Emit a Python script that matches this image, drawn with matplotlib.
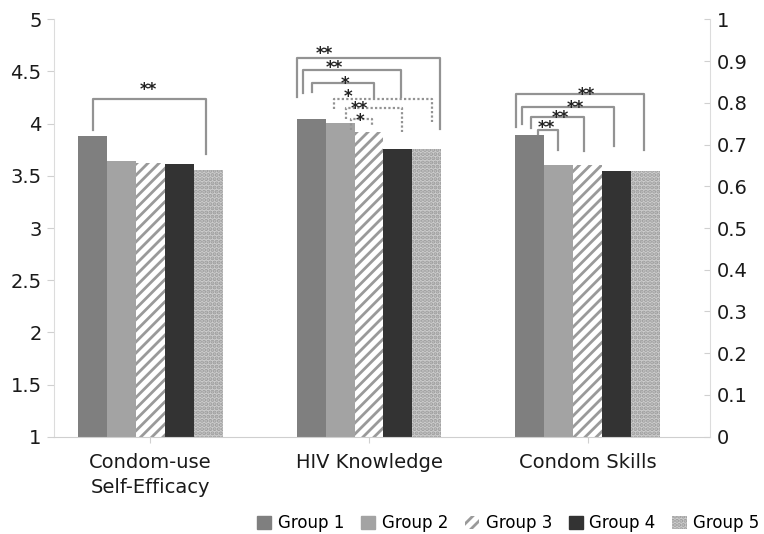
import matplotlib
matplotlib.use("Agg")
import matplotlib.pyplot as plt
from matplotlib.patches import Patch
import numpy as np

# ---- data ----
categories = ["Condom-use\nSelf-Efficacy", "HIV Knowledge", "Condom Skills"]
group_names = ["Group 1", "Group 2", "Group 3", "Group 4", "Group 5"]
group1 = [3.88, 4.04, 3.89]
group2 = [3.64, 4.01, 3.60]
group3 = [3.62, 3.92, 3.60]
group4 = [3.61, 3.76, 3.55]
group5 = [3.56, 3.76, 3.55]
left_ticks = [1, 1.5, 2, 2.5, 3, 3.5, 4, 4.5, 5]
right_ticks = [0, 0.1, 0.2, 0.3, 0.4, 0.5, 0.6, 0.7, 0.8, 0.9, 1]

# significance brackets (annotation layout):
# category, left slot, right slot, top, left foot, right foot, label, label slot, label y, dotted
brackets = [
    (0, 0.0, 3.9, 4.235, 3.94, 3.71, "**", 1.91, 4.37, False),
    (1, -0.5, 4.45, 4.63, 4.26, 3.95, "**", 0.46, 4.71, False),
    (1, -0.28, 3.1, 4.51, 4.29, 4.26, "**", 0.81, 4.575, False),
    (1, 0.05, 2.17, 4.39, 4.30, 4.26, "*", 1.16, 4.43, False),
    (1, 0.81, 4.18, 4.235, 4.14, 4.02, "*", 1.27, 4.30, True),
    (1, 1.19, 3.15, 4.15, 4.04, 3.92, "**", 1.68, 4.19, True),
    (1, 1.37, 2.11, 4.04, 3.94, 3.97, "*", 1.68, 4.075, True),
    (2, -0.47, 3.95, 4.28, 3.97, 3.75, "**", 1.95, 4.32, False),
    (2, -0.25, 2.93, 4.155, 4.00, 3.79, "**", 1.57, 4.20, False),
    (2, 0.06, 1.89, 4.06, 3.96, 3.74, "**", 1.05, 4.10, False),
    (2, 0.3, 0.97, 3.94, 3.90, 3.75, "**", 0.57, 4.00, False),
]

series = [group1, group2, group3, group4, group5]
styles = [
    dict(color="#7f7f7f"),
    dict(color="#a3a3a3"),
    dict(facecolor="white", edgecolor="#9a9a9a", hatch="///", linewidth=0),
    dict(color="#333333"),
    dict(facecolor="#cdcdcd", edgecolor="#9c9c9c", hatch="....", linewidth=0),
]

plt.rcParams["font.family"] = "DejaVu Sans"
plt.rcParams["hatch.linewidth"] = 2.0

fig = plt.figure(figsize=(7.64, 5.34), dpi=100)
ax = fig.add_axes([54 / 764, 1 - 436.7 / 534, 656 / 764, 417.4 / 534])

x = np.arange(len(categories))
w = 0.1327
for i, (vals, st) in enumerate(zip(series, styles)):
    ax.bar(x + (i - 2) * w, vals, w, label=group_names[i], zorder=2, **st)

ax.set_xlim(-0.4416, 2.5606)
ax.set_ylim(1, 5)
ax.set_yticks(left_ticks)
ax.set_yticklabels([f"{t:g}" for t in left_ticks])
ax.set_xticks(x)
ax.set_xticklabels(categories, linespacing=1.35)

for s in ["top", "right"]:
    ax.spines[s].set_visible(False)
ax.spines["left"].set_color("#dcdcdc")
ax.spines["bottom"].set_color("#cfcfcf")
ax.tick_params(axis="y", labelsize=14, colors="#d0d0d0", labelcolor="#1a1a1a",
               length=5, pad=4)
ax.tick_params(axis="x", labelsize=14, colors="#d0d0d0", labelcolor="#1a1a1a",
               length=4, pad=8)

ax2 = ax.twinx()
ax2.set_ylim(0, 1)
ax2.set_yticks(right_ticks)
ax2.set_yticklabels([f"{t:g}" for t in right_ticks])
for s in ["top", "left", "bottom"]:
    ax2.spines[s].set_visible(False)
ax2.spines["right"].set_color("#dcdcdc")
ax2.tick_params(axis="y", labelsize=14, colors="#d0d0d0", labelcolor="#1a1a1a",
                direction="in", length=4, pad=5)

# significance brackets
for cat, sa, sb, top, fa, fb, lab, ls_, ly, dotted in brackets:
    xa = cat + (sa - 2) * w
    xb = cat + (sb - 2) * w
    ax.plot([xa, xa, xb, xb], [fa, top, top, fb], color="#939393",
            lw=1.6, ls=(0, (1, 1)) if dotted else "-", zorder=3, clip_on=False)
    ax.annotate(lab, (cat + (ls_ - 2) * w, ly), xytext=(0, -7),
                textcoords="offset points", ha="center", va="baseline",
                fontsize=12, fontweight="bold", color="#222222", zorder=4)

handles = [Patch(label=n, **st) for n, st in zip(group_names, styles)]
fig.legend(handles=handles, loc="center left", bbox_to_anchor=(257 / 764, 11 / 534),
           ncol=5, frameon=False, fontsize=12, handlelength=0.85, handleheight=0.85,
           handletextpad=0.4, columnspacing=1.0, borderpad=0, borderaxespad=0)

fig.savefig("out.png", dpi=100)
plt.close(fig)
